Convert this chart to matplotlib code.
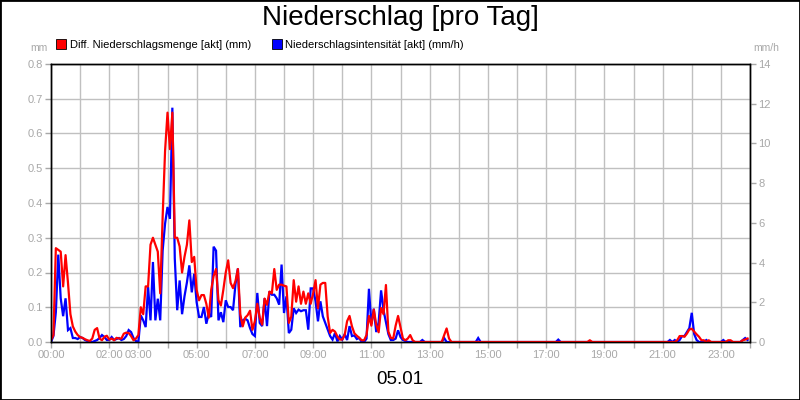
import pandas as pd
import matplotlib
matplotlib.use("Agg")
import matplotlib.pyplot as plt
import matplotlib.dates as mdates
import matplotlib.ticker as ticker
from matplotlib.lines import Line2D
from matplotlib.patches import Rectangle

plt.rcParams["font.family"] = ["Liberation Sans", "DejaVu Sans"]

# ── Daten: 5-Minuten-Werte, eine Zeile pro Stunde ───────────────────────────
DAY = "2024-01-05"
DAY_LABEL = "05.01"

# Diff. Niederschlagsmenge [mm] (linke Achse)
RAIN_MM = [
    0.005, 0.02, 0.27, 0.265, 0.26, 0.16, 0.25, 0.17, 0.08, 0.045, 0.03, 0.02,      # 00
    0.014, 0.012, 0.008, 0.005, 0.003, 0.01, 0.035, 0.04, 0.01, 0.005, 0.015, 0.018,  # 01
    0.007, 0.01, 0.005, 0.012, 0.01, 0.01, 0.024, 0.027, 0.026, 0.017, 0.005, 0.01,  # 02
    0.02, 0.10, 0.08, 0.16, 0.16, 0.28, 0.30, 0.28, 0.26, 0.14, 0.36, 0.55,          # 03
    0.66, 0.555, 0.66, 0.30, 0.30, 0.275, 0.20, 0.245, 0.28, 0.35, 0.23, 0.245,      # 04
    0.15, 0.12, 0.135, 0.135, 0.11, 0.07, 0.15, 0.19, 0.21, 0.12, 0.105, 0.15,       # 05
    0.20, 0.235, 0.17, 0.155, 0.175, 0.21, 0.08, 0.045, 0.07, 0.077, 0.09, 0.035,    # 06
    0.06, 0.11, 0.07, 0.05, 0.125, 0.107, 0.145, 0.14, 0.21, 0.15, 0.165, 0.165,     # 07
    0.162, 0.16, 0.055, 0.073, 0.178, 0.116, 0.16, 0.11, 0.145, 0.11, 0.14, 0.11,    # 08
    0.14, 0.178, 0.097, 0.165, 0.17, 0.17, 0.073, 0.026, 0.035, 0.03, 0.016, 0.007,  # 09
    0.007, 0.02, 0.06, 0.075, 0.045, 0.025, 0.018, 0.012, 0.005, 0.005, 0.02, 0.075, # 10
    0.047, 0.093, 0.05, 0.028, 0.098, 0.08, 0.164, 0.03, 0.012, 0.01, 0.047, 0.075,  # 11
    0.042, 0.01, 0.005, 0.01, 0.02, 0.005, 0, 0, 0, 0, 0, 0,                         # 12
    0, 0, 0, 0, 0, 0, 0.02, 0.039, 0.01, 0, 0, 0,                                    # 13
    0, 0, 0, 0, 0, 0, 0, 0, 0, 0, 0, 0,                                              # 14
    0, 0, 0, 0, 0, 0, 0, 0, 0, 0, 0, 0,                                              # 15
    0, 0, 0, 0, 0, 0, 0, 0, 0, 0, 0, 0,                                              # 16
    0, 0, 0, 0, 0, 0, 0, 0, 0, 0, 0, 0,                                              # 17
    0, 0, 0, 0, 0, 0, 0.005, 0, 0, 0, 0, 0,                                          # 18
    0, 0, 0, 0, 0, 0, 0, 0, 0, 0, 0, 0,                                              # 19
    0, 0, 0, 0, 0, 0, 0, 0, 0, 0, 0, 0,                                              # 20
    0, 0, 0, 0, 0, 0, 0.005, 0.017, 0.017, 0.015, 0.024, 0.036,                      # 21
    0.038, 0.03, 0.022, 0.015, 0.005, 0.005, 0, 0.005, 0, 0, 0, 0,                   # 22
    0, 0, 0, 0.005, 0.005, 0, 0, 0, 0, 0.005, 0.007, 0.01,                           # 23
]

# Niederschlagsintensität [mm/h] (rechte Achse)
INTENSITY_MMH = [
    0.0, 0.3, 1.5, 4.4, 2.2, 1.3, 2.2, 0.6, 0.7, 0.2, 0.2, 0.15,        # 00
    0.25, 0.2, 0.1, 0.05, 0.0, 0.0, 0.05, 0.1, 0.2, 0.35, 0.25, 0.1,    # 01
    0.1, 0.25, 0.1, 0.15, 0.2, 0.1, 0.15, 0.3, 0.6, 0.5, 0.2, 0.05,     # 02
    0.0, 1.34, 1.09, 0.75, 2.77, 1.09, 4.03, 1.09, 2.18, 1.09, 4.6, 5.96,  # 03
    6.8, 6.2, 11.8, 4.2, 1.6, 3.1, 1.4, 2.3, 3.0, 3.86, 2.5, 3.44,      # 04
    2.0, 1.26, 1.26, 1.76, 0.92, 1.43, 1.26, 4.8, 4.6, 1.09, 1.5, 1.0,  # 05
    2.1, 1.76, 1.76, 1.6, 2.9, 3.7, 0.75, 1.09, 1.17, 1.09, 0.7, 0.4,   # 06
    0.3, 2.47, 0.96, 0.8, 2.2, 0.8, 2.55, 2.38, 2.38, 2.2, 1.88, 3.9,   # 07
    1.46, 2.3, 0.45, 0.62, 1.7, 1.46, 1.63, 1.55, 1.6, 1.6, 0.62, 2.7,  # 08
    2.7, 2.05, 1.04, 2.05, 1.29, 0.96, 0.62, 0.3, 0.12, 0.45, 0.03, 0.3,  # 09
    0.12, 0.4, 0.1, 0.8, 0.3, 0.33, 0.15, 0.2, 0.0, 0.0, 0.17, 2.68,    # 10
    0.9, 1.68, 0.5, 1.0, 2.6, 1.6, 1.0, 0.4, 0.1, 0.1, 0.17, 0.59,      # 11
    0.25, 0.1, 0.05, 0, 0, 0, 0, 0, 0, 0.1, 0, 0,                       # 12
    0, 0, 0, 0, 0, 0, 0.2, 0, 0, 0, 0, 0,                               # 13
    0, 0, 0, 0, 0, 0, 0, 0, 0.2, 0, 0, 0,                               # 14
    0, 0, 0, 0, 0, 0, 0, 0, 0, 0, 0, 0,                                 # 15
    0, 0, 0, 0, 0, 0, 0, 0, 0, 0, 0, 0,                                 # 16
    0, 0, 0, 0, 0, 0.12, 0, 0, 0, 0, 0, 0,                              # 17
    0, 0, 0, 0, 0, 0, 0, 0, 0, 0, 0, 0,                                 # 18
    0, 0, 0, 0, 0, 0, 0, 0, 0, 0, 0, 0,                                 # 19
    0, 0, 0, 0, 0, 0, 0, 0, 0, 0, 0, 0,                                 # 20
    0, 0, 0, 0.1, 0, 0.1, 0, 0.1, 0.3, 0.3, 0.5, 0.7,                   # 21
    1.47, 0.4, 0.1, 0, 0, 0, 0.1, 0, 0, 0, 0, 0,                        # 22
    0, 0.1, 0, 0, 0, 0, 0, 0, 0, 0.1, 0.2, 0.1,                         # 23
]

LABELED_HOURS = [0, 2, 3, 5, 7, 9, 11, 13, 15, 17, 19, 21, 23]

TITLE = "Niederschlag [pro Tag]"
LABEL_RAIN = "Diff. Niederschlagsmenge [akt] (mm)"
LABEL_INT = "Niederschlagsintensität [akt] (mm/h)"

RED = "#ff0000"
BLUE = "#0000ff"
GREY = "#a8a8a8"
GRID_C = "#c0c0c0"

times = pd.date_range(DAY, periods=len(RAIN_MM), freq="5min")
t0 = pd.Timestamp(DAY)
t1 = t0 + pd.Timedelta(hours=24)

fig = plt.figure(figsize=(8, 4), dpi=100)
fig.patch.set_facecolor("white")
ax = fig.add_axes([51 / 800, 1 - 342 / 400, 699 / 800, 278 / 400])
ax2 = ax.twinx()

# linke Achse: Raster, mm
ax.set_xlim(t0, t1)
ax.set_ylim(0, 0.8)
ax.yaxis.set_major_locator(ticker.MultipleLocator(0.1))
ax.yaxis.set_major_formatter(ticker.FormatStrFormatter("%.1f"))
ax.xaxis.set_major_locator(mdates.HourLocator(interval=1))


def hour_label(x, pos):
    d = mdates.num2date(x)
    if d.minute == 0 and d.day == t0.day and d.hour in LABELED_HOURS:
        return d.strftime("%H:%M")
    return ""


ax.xaxis.set_major_formatter(ticker.FuncFormatter(hour_label))
ax.grid(True, color=GRID_C, linewidth=1.0)
ax.set_axisbelow(True)

# rechte Achse: mm/h
ax2.set_ylim(0, 14)
ax2.yaxis.set_major_locator(ticker.MultipleLocator(2))
ax2.yaxis.set_major_formatter(ticker.FormatStrFormatter("%d"))

for a in (ax, ax2):
    a.tick_params(colors=GREY, labelcolor=GREY, labelsize=8, length=4, width=1, pad=2)
    for s in a.spines.values():
        s.set_color("black")
        s.set_linewidth(1.0)

# Linien: blau unten, rot oben (rot in mm-Koordinaten der linken Achse)
ax2.plot(times, INTENSITY_MMH, color=BLUE, linewidth=1.6, solid_joinstyle="miter")
ax2.plot(times, RAIN_MM, color=RED, linewidth=1.6, transform=ax.transData)
ax2.set_xlim(t0, t1)

fig.text(0.5, 1 - 18 / 400, TITLE, ha="center", va="center", fontsize=20, color="black")
fig.text(48 / 800, 1 - 48 / 400, "mm", ha="right", va="center", fontsize=7.5, color=GREY)
fig.text(753 / 800, 1 - 48 / 400, "mm/h", ha="left", va="center", fontsize=7.5, color=GREY)
fig.text(0.5, 1 - 380 / 400, DAY_LABEL, ha="center", va="center", fontsize=13.5, color="black")

handles = [
    Line2D([], [], linestyle="none", marker="s", markersize=7,
           markerfacecolor=RED, markeredgecolor="black", markeredgewidth=0.6),
    Line2D([], [], linestyle="none", marker="s", markersize=7,
           markerfacecolor=BLUE, markeredgecolor="black", markeredgewidth=0.6),
]
fig.legend(handles, [LABEL_RAIN, LABEL_INT], loc="center left",
           bbox_to_anchor=(57 / 800, 1 - 45 / 400), ncol=2, frameon=False,
           fontsize=8, handlelength=0.8, handletextpad=0.35, columnspacing=1.9,
           borderpad=0, borderaxespad=0)

fig.add_artist(Rectangle((0, 0), 1, 1, transform=fig.transFigure, fill=False,
                         edgecolor="black", linewidth=2))

fig.savefig("out.png", dpi=100, facecolor="white")
